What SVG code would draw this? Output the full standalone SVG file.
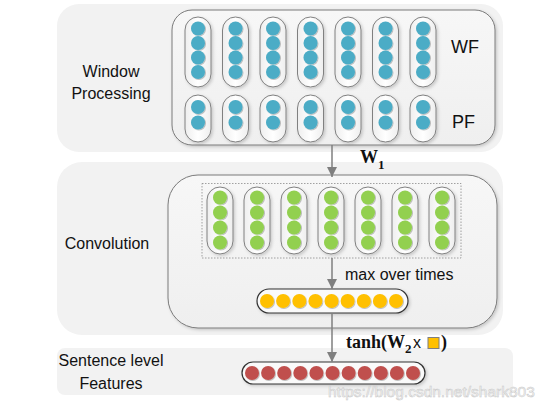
<svg xmlns="http://www.w3.org/2000/svg" width="546" height="412" viewBox="0 0 546 412">
<defs>
<style>
.panel{fill:#f2f2f2;}
.inner{fill:url(#innerGrad);stroke:#7a7a7a;stroke-width:1;filter:url(#shadow);}
.cap{fill:url(#capGrad);stroke:#808080;stroke-width:1;filter:url(#shadow);}
.capd{fill:#fafafa;stroke:#333;stroke-width:1.2;filter:url(#shadow);}
.blue{fill:#4bacc6;filter:url(#dot);}
.green{fill:#92d050;filter:url(#dot);}
.yellow{fill:#ffc000;filter:url(#dot);}
.red{fill:#c0504d;filter:url(#dot);}
.lbl{font-family:"Liberation Sans",Arial,sans-serif;font-size:16px;fill:#111;}
.big{font-family:"Liberation Sans",Arial,sans-serif;font-size:18px;fill:#111;}
.math{font-family:"Liberation Serif","Times New Roman",serif;font-weight:bold;font-size:18px;fill:#111;}
.conn{stroke:#7f7f7f;stroke-width:1.5;fill:none;marker-end:url(#arr);}
</style>
<linearGradient id="innerGrad" x1="0" y1="0" x2="0" y2="1">
<stop offset="0" stop-color="#f7f7f7"/><stop offset="1" stop-color="#efefef"/>
</linearGradient>
<linearGradient id="capGrad" x1="0" y1="0" x2="1" y2="0">
<stop offset="0" stop-color="#eeeeee"/><stop offset="0.5" stop-color="#ffffff"/><stop offset="1" stop-color="#eeeeee"/>
</linearGradient>
<filter id="shadow" x="-20%" y="-20%" width="140%" height="140%">
<feDropShadow dx="1.5" dy="1.5" stdDeviation="1.5" flood-color="#000" flood-opacity="0.18"/>
</filter>
<filter id="dot" x="-30%" y="-30%" width="160%" height="160%">
<feDropShadow dx="0.8" dy="0.8" stdDeviation="0.5" flood-color="#000" flood-opacity="0.3"/>
</filter>
<marker id="arr" viewBox="0 0 10 10" refX="10" refY="5" markerWidth="10" markerHeight="10" markerUnits="userSpaceOnUse" orient="auto">
<path d="M0,0 L10,5 L0,10 z" fill="#7f7f7f"/>
</marker>
</defs>
<rect width="546" height="412" fill="#ffffff"/>

<g id="window-processing">
<rect class="panel" x="57" y="4" width="446" height="148" rx="22"/>
<text class="lbl" x="111" y="77" text-anchor="middle">Window</text>
<text class="lbl" x="111" y="99" text-anchor="middle">Processing</text>
<rect class="inner" x="172" y="10" width="323" height="135" rx="20"/>
<text class="big" x="451" y="53">WF</text>
<text class="big" x="452" y="128">PF</text>
</g>

<g id="wf-columns">
<rect class="cap" x="185" y="17" width="26" height="70" rx="13"/>
<rect class="cap" x="222.5" y="17" width="26" height="70" rx="13"/>
<rect class="cap" x="260" y="17" width="26" height="70" rx="13"/>
<rect class="cap" x="297.5" y="17" width="26" height="70" rx="13"/>
<rect class="cap" x="335" y="17" width="26" height="70" rx="13"/>
<rect class="cap" x="372.5" y="17" width="26" height="70" rx="13"/>
<rect class="cap" x="410" y="17" width="26" height="70" rx="13"/>
<g class="blue">
<circle cx="198" cy="28.5" r="7"/><circle cx="198" cy="43" r="7"/><circle cx="198" cy="57.5" r="7"/><circle cx="198" cy="72" r="7"/>
<circle cx="235.5" cy="28.5" r="7"/><circle cx="235.5" cy="43" r="7"/><circle cx="235.5" cy="57.5" r="7"/><circle cx="235.5" cy="72" r="7"/>
<circle cx="273" cy="28.5" r="7"/><circle cx="273" cy="43" r="7"/><circle cx="273" cy="57.5" r="7"/><circle cx="273" cy="72" r="7"/>
<circle cx="310.5" cy="28.5" r="7"/><circle cx="310.5" cy="43" r="7"/><circle cx="310.5" cy="57.5" r="7"/><circle cx="310.5" cy="72" r="7"/>
<circle cx="348" cy="28.5" r="7"/><circle cx="348" cy="43" r="7"/><circle cx="348" cy="57.5" r="7"/><circle cx="348" cy="72" r="7"/>
<circle cx="385.5" cy="28.5" r="7"/><circle cx="385.5" cy="43" r="7"/><circle cx="385.5" cy="57.5" r="7"/><circle cx="385.5" cy="72" r="7"/>
<circle cx="423" cy="28.5" r="7"/><circle cx="423" cy="43" r="7"/><circle cx="423" cy="57.5" r="7"/><circle cx="423" cy="72" r="7"/>
</g>
</g>

<g id="pf-columns">
<rect class="cap" x="185" y="95" width="26" height="47" rx="13"/>
<rect class="cap" x="222.5" y="95" width="26" height="47" rx="13"/>
<rect class="cap" x="260" y="95" width="26" height="47" rx="13"/>
<rect class="cap" x="297.5" y="95" width="26" height="47" rx="13"/>
<rect class="cap" x="335" y="95" width="26" height="47" rx="13"/>
<rect class="cap" x="372.5" y="95" width="26" height="47" rx="13"/>
<rect class="cap" x="410" y="95" width="26" height="47" rx="13"/>
<g class="blue">
<circle cx="198" cy="107" r="7"/><circle cx="198" cy="122.5" r="7"/>
<circle cx="235.5" cy="107" r="7"/><circle cx="235.5" cy="122.5" r="7"/>
<circle cx="273" cy="107" r="7"/><circle cx="273" cy="122.5" r="7"/>
<circle cx="310.5" cy="107" r="7"/><circle cx="310.5" cy="122.5" r="7"/>
<circle cx="348" cy="107" r="7"/><circle cx="348" cy="122.5" r="7"/>
<circle cx="385.5" cy="107" r="7"/><circle cx="385.5" cy="122.5" r="7"/>
<circle cx="423" cy="107" r="7"/><circle cx="423" cy="122.5" r="7"/>
</g>
</g>

<g id="convolution">
<rect class="panel" x="57" y="162" width="446" height="173" rx="25"/>
<text class="lbl" x="107" y="249" text-anchor="middle">Convolution</text>
<rect class="inner" x="168" y="175" width="329" height="153" rx="30"/>
<rect x="202" y="183.5" width="259" height="74.5" fill="none" stroke="#8a8a8a" stroke-width="0.8" stroke-dasharray="1.5,1.5"/>
</g>

<g id="conv-columns">
<rect class="cap" x="207" y="187" width="26" height="67" rx="13"/>
<rect class="cap" x="244" y="187" width="26" height="67" rx="13"/>
<rect class="cap" x="281" y="187" width="26" height="67" rx="13"/>
<rect class="cap" x="318" y="187" width="26" height="67" rx="13"/>
<rect class="cap" x="355" y="187" width="26" height="67" rx="13"/>
<rect class="cap" x="392" y="187" width="26" height="67" rx="13"/>
<rect class="cap" x="429" y="187" width="26" height="67" rx="13"/>
<g class="green">
<circle cx="220" cy="197.5" r="7"/><circle cx="220" cy="212.5" r="7"/><circle cx="220" cy="227.5" r="7"/><circle cx="220" cy="242.5" r="7"/>
<circle cx="257" cy="197.5" r="7"/><circle cx="257" cy="212.5" r="7"/><circle cx="257" cy="227.5" r="7"/><circle cx="257" cy="242.5" r="7"/>
<circle cx="294" cy="197.5" r="7"/><circle cx="294" cy="212.5" r="7"/><circle cx="294" cy="227.5" r="7"/><circle cx="294" cy="242.5" r="7"/>
<circle cx="331" cy="197.5" r="7"/><circle cx="331" cy="212.5" r="7"/><circle cx="331" cy="227.5" r="7"/><circle cx="331" cy="242.5" r="7"/>
<circle cx="368" cy="197.5" r="7"/><circle cx="368" cy="212.5" r="7"/><circle cx="368" cy="227.5" r="7"/><circle cx="368" cy="242.5" r="7"/>
<circle cx="405" cy="197.5" r="7"/><circle cx="405" cy="212.5" r="7"/><circle cx="405" cy="227.5" r="7"/><circle cx="405" cy="242.5" r="7"/>
<circle cx="442" cy="197.5" r="7"/><circle cx="442" cy="212.5" r="7"/><circle cx="442" cy="227.5" r="7"/><circle cx="442" cy="242.5" r="7"/>
</g>
</g>

<g id="max-pooled">
<rect class="capd" x="257" y="289" width="151" height="24" rx="12"/>
<g class="yellow">
<circle cx="267" cy="301" r="7"/><circle cx="283.1" cy="301" r="7"/><circle cx="299.3" cy="301" r="7"/><circle cx="315.4" cy="301" r="7"/><circle cx="331.5" cy="301" r="7"/><circle cx="347.6" cy="301" r="7"/><circle cx="363.8" cy="301" r="7"/><circle cx="379.9" cy="301" r="7"/><circle cx="396" cy="301" r="7"/>
</g>
</g>

<g id="sentence-features">
<rect class="panel" x="57" y="348" width="456" height="47" rx="8"/>
<text class="lbl" x="111" y="366" text-anchor="middle">Sentence level</text>
<text class="lbl" x="111" y="389" text-anchor="middle">Features</text>
<rect class="capd" x="242" y="362" width="183" height="22" rx="11"/>
<g class="red">
<circle cx="252" cy="373" r="7"/><circle cx="268.1" cy="373" r="7"/><circle cx="284.2" cy="373" r="7"/><circle cx="300.3" cy="373" r="7"/><circle cx="316.4" cy="373" r="7"/><circle cx="332.5" cy="373" r="7"/><circle cx="348.6" cy="373" r="7"/><circle cx="364.7" cy="373" r="7"/><circle cx="380.8" cy="373" r="7"/><circle cx="396.9" cy="373" r="7"/><circle cx="413" cy="373" r="7"/>
</g>
</g>

<g id="connectors">
<line class="conn" x1="332" y1="145" x2="332" y2="177"/>
<line class="conn" x1="332" y1="258" x2="332" y2="289"/>
<line class="conn" x1="332" y1="313" x2="332" y2="362"/>
<text class="math" x="360" y="163">W<tspan font-size="13" dy="6">1</tspan></text>
<text class="lbl" x="345" y="280">max over times</text>
<text class="math" x="346" y="348">tanh(W<tspan font-size="13" dy="5">2</tspan></text>
<text class="lbl" x="413" y="348">x</text>
<rect x="428" y="337.5" width="11" height="11" fill="#ffc000" stroke="#7f7f7f" stroke-width="1"/>
<text class="math" x="441" y="348">)</text>
</g>

<text x="328" y="397" font-family="Liberation Sans, Arial, sans-serif" font-size="15.5" fill="#f4f4f4" stroke="#c8c8c8" stroke-width="0.5">https://blog.csdn.net/shark803</text>
</svg>
